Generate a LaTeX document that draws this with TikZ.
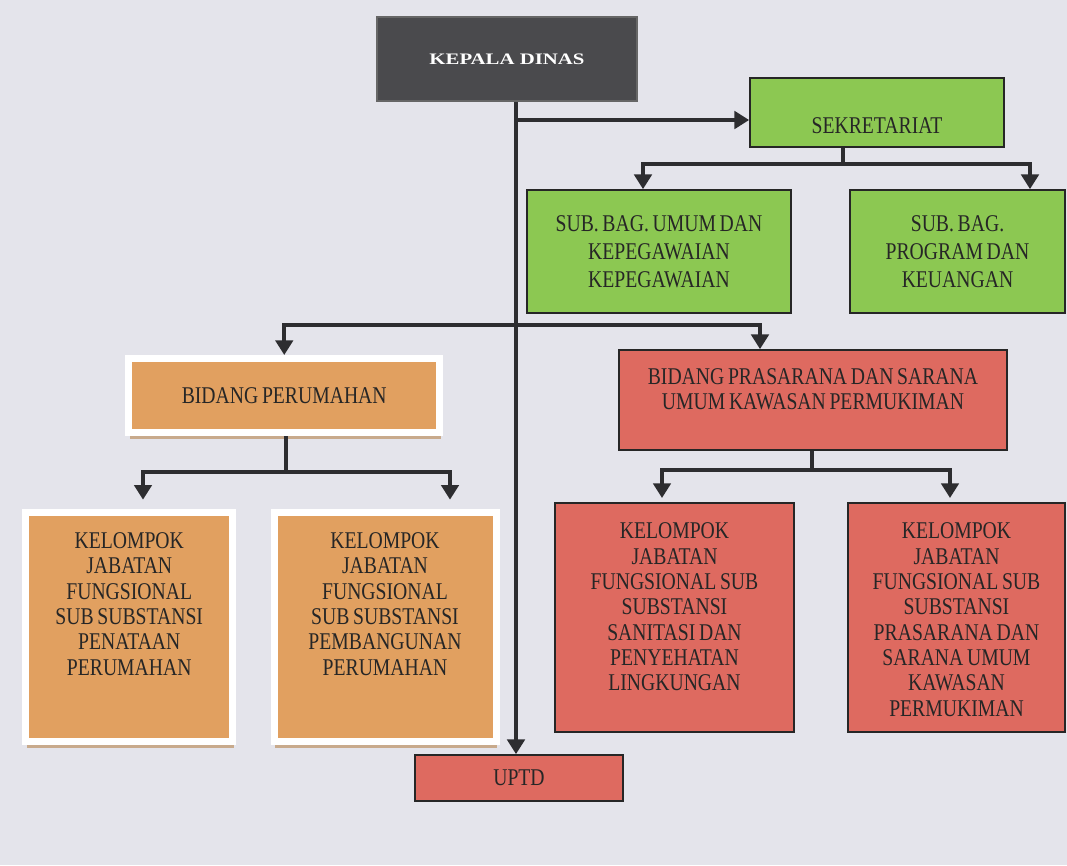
\documentclass[tikz,border=0pt]{standalone}
\usepackage{fontspec}
\setmainfont{Liberation Serif}[FakeStretch=0.82, WordSpace=0.75]
\newfontfamily\hurufkepala{Liberation Serif}[FakeStretch=1.3]
\usetikzlibrary{arrows.meta,shadows,positioning}
\definecolor{latar}{RGB}{228,228,235}
\definecolor{abugelap}{RGB}{74,74,77}
\definecolor{hijaudaun}{RGB}{140,200,82}
\definecolor{jingga}{RGB}{225,160,96}
\definecolor{merahbata}{RGB}{222,106,96}
\definecolor{coklatmuda}{RGB}{200,170,140}
\definecolor{garisgelap}{RGB}{45,45,48}

\begin{document}
\begin{tikzpicture}
[ x=0.75pt, y=-0.75pt,
  every node/.style={font=\fontsize{18}{19}\selectfont, align=flush center, text=black!85},
  kotak/.style={draw=black!85, line width=1.3pt, inner sep=2pt},
  kepala/.style={kotak, fill=abugelap, draw=black!60, text=white,
    font=\hurufkepala\bfseries\fontsize{12}{14}\selectfont},
  hijau/.style={kotak, fill=hijaudaun, font=\fontsize{18}{21}\selectfont},
  merah/.style={kotak, fill=merahbata},
  oranye/.style={draw=white, line width=5.25pt, fill=jingga, inner sep=2pt,
    drop shadow={shadow xshift=1pt, shadow yshift=-5pt, fill=coklatmuda, opacity=1}},
  kelompok/.style={anchor=north, text width=#1, inner xsep=2pt, inner ysep=15pt,
    text depth=130pt},
  garis/.style={line width=2.8pt, draw=garisgelap},
  panah/.style={garis, -{Triangle[width=13pt,length=11pt]}}
]
\fill[latar] (0,0) rectangle (1067,865);
\useasboundingbox (0,0) rectangle (1067,865);

% kotak-kotak
\node[kepala, minimum width=195pt, minimum height=63pt] (kepala) at (507,59) {KEPALA DINAS};
\node[hijau, minimum width=190.5pt, minimum height=51.75pt, text height=32pt, text depth=0pt]
  (sekretariat) at (877,112.5) {SEKRETARIAT};
\node[hijau, minimum width=198pt, minimum height=92.25pt] (umum) at (659,251.5)
  {SUB. BAG. UMUM DAN\\KEPEGAWAIAN\\KEPEGAWAIAN};
\node[hijau, minimum width=161.25pt, minimum height=92.25pt] (program) at (957.5,251.5)
  {SUB. BAG.\\PROGRAM DAN\\KEUANGAN};
\node[oranye, minimum width=233.6pt, minimum height=55.5pt] (perumahan) at (284.25,395.5)
  {BIDANG PERUMAHAN};
\node[merah, minimum width=291pt, minimum height=75pt, text width=287pt, text depth=35pt]
  (prasarana) at (813,400) {BIDANG PRASARANA DAN SARANA\\UMUM KAWASAN PERMUKIMAN};

\node[oranye, kelompok=151.6pt] (penataan) at (129.25,509)
  {KELOMPOK\\JABATAN\\FUNGSIONAL\\SUB SUBSTANSI\\PENATAAN\\PERUMAHAN};
\node[oranye, kelompok=162.5pt] (pembangunan) at (385,509)
  {KELOMPOK\\JABATAN\\FUNGSIONAL\\SUB SUBSTANSI\\PEMBANGUNAN\\PERUMAHAN};
\node[merah, kelompok=175.25pt] (sanitasi) at (674.5,502)
  {KELOMPOK\\JABATAN\\FUNGSIONAL SUB\\SUBSTANSI\\SANITASI DAN\\PENYEHATAN\\LINGKUNGAN};
\node[merah, kelompok=158.75pt] (psu) at (956.5,502)
  {KELOMPOK\\JABATAN\\FUNGSIONAL SUB\\SUBSTANSI\\PRASARANA DAN\\SARANA UMUM\\KAWASAN\\PERMUKIMAN};

\node[merah, minimum width=156pt, minimum height=34.5pt] (uptd) at (519,778) {UPTD};

% titik bantu
\coordinate (batang) at (516,120);
\coordinate (bs) at (843,164);
\coordinate (bs1) at (643,164);
\coordinate (bs2) at (1030,164);
\coordinate (bu) at (516,325);
\coordinate (bu2) at (760,325);
\coordinate (bh) at (286,472);
\coordinate (bh1) at (143,472);
\coordinate (bh2) at (450,472);
\coordinate (bp) at (812,470);
\coordinate (bp1) at (662,470);
\coordinate (bp2) at (950,470);

% garis
\draw[panah] (kepala.south -| batang) -- (uptd.north -| batang);
\draw[panah] (batang) -- (sekretariat.west |- batang);

\draw[garis] (sekretariat.south -| bs) -- (bs);
\draw[panah] (bs) -| (umum.north -| bs1);
\draw[panah] (bs) -| (program.north -| bs2);

\draw[panah] (bu) -| (perumahan.north);
\draw[panah] (bu) -| (prasarana.north -| bu2);

\draw[garis] (perumahan.south -| bh) -- (bh);
\foreach \c/\n in {bh1/penataan, bh2/pembangunan}{
  \draw[panah, shorten >=7pt] (bh) -| (\n.north -| \c);
}
\draw[garis] (prasarana.south -| bp) -- (bp);
\foreach \c/\n in {bp1/sanitasi, bp2/psu}{
  \draw[panah, shorten >=3pt] (bp) -| (\n.north -| \c);
}
\end{tikzpicture}
\end{document}
